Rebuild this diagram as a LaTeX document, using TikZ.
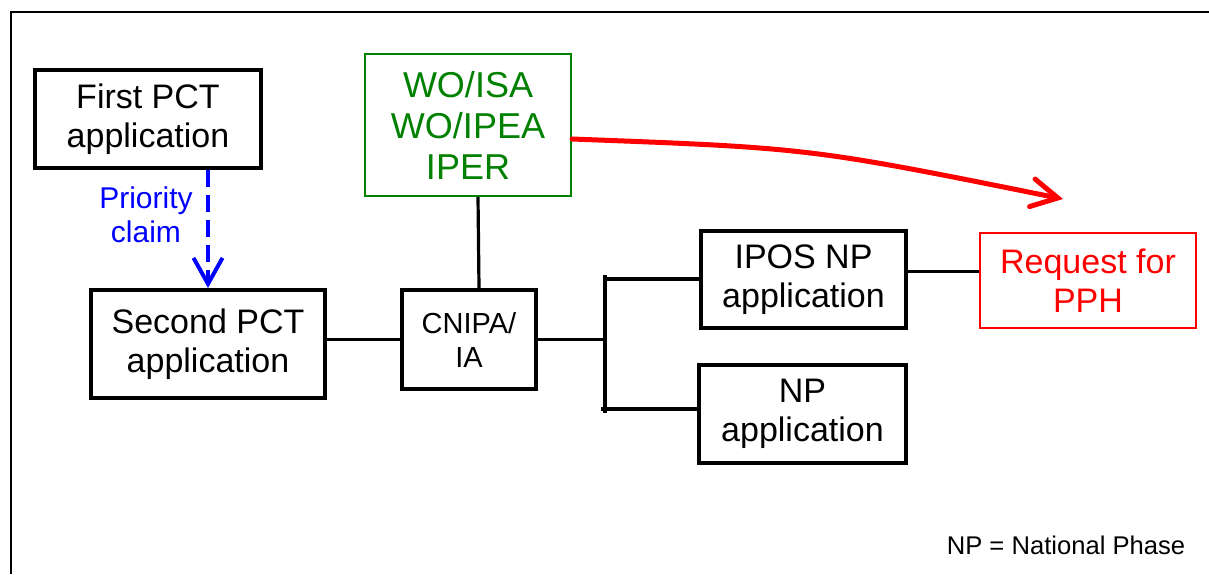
\documentclass[tikz,border=0pt]{standalone}
\usepackage{fontspec}
\setmainfont{Liberation Sans}
\usetikzlibrary{arrows.meta}

\begin{document}
\begin{tikzpicture}[x=0.5pt,y=-0.5pt,
            every node/.style={align=center,inner sep=0pt},
            link/.style={line width=1.6pt}]
            \tikzstyle{appbox}=[draw,line width=2pt,font=\fontsize{17}{19.5}\selectfont]
            \tikzstyle{wobox}=[draw=green!50!black,text=green!50!black,line width=1pt,font=\fontsize{18}{20.5}\selectfont]
            \tikzstyle{pphbox}=[draw=red,text=red,line width=0.75pt,font=\fontsize{17}{19.5}\selectfont]
            \useasboundingbox (0,0) rectangle (1209,574);
            \draw[line width=1pt] (11,574) -- (11,12) -- (1209,12);
            \node[appbox,minimum width=113pt,minimum height=49pt] (first) at (148,119) {First PCT\\application};
            \node[appbox,minimum width=117pt,minimum height=54pt] (second) at (208,344) {Second PCT\\application};
            \node[wobox,minimum width=103pt,minimum height=71pt] (wo) at (468,125) {WO/ISA\\WO/IPEA\\IPER};
            \node[appbox,font=\fontsize{14.5}{17}\selectfont,minimum width=67pt,minimum height=49.5pt] (cnipa) at (469,339.5) {CNIPA/\\IA};
            \node[appbox,minimum width=102.5pt,minimum height=48.5pt] (ipos) at (803.5,279.5) {IPOS NP\\application};
            \node[appbox,minimum width=103.5pt,minimum height=49pt] (np) at (802.5,414) {NP\\application};
            \node[pphbox,minimum width=108pt,minimum height=47.5pt] (pph) at (1088,280.5) {Request for\\PPH};
            \node[text=blue,font=\fontsize{15}{17}\selectfont] (prio) at (146,215) {Priority\\claim};
            \node[font=\fontsize{12.8}{15}\selectfont] (note) at (1066,545) {NP = National Phase};
            \coordinate (bustop) at (605,279);
            \coordinate (busbot) at (605,409);
            \coordinate (pphtip) at (1063,199);
            \draw[blue,line width=2pt,dash pattern=on 8.5pt off 4pt,-{Straight Barb[length=13pt,width=14.5pt]}]
                (second.north |- first.south) -- (second.north);
            \draw[link] (cnipa.west -| second.east) -- (cnipa.west);
            \draw[link] ([xshift=5pt]wo.south) -- ([xshift=5pt]cnipa.north);
            \draw[link] (cnipa.east) -- (cnipa.east -| bustop);
            \draw[link] ([yshift=2pt]bustop) -- ([yshift=-2pt]busbot);
            \draw[link] (bustop) -- (ipos.west |- bustop);
            \draw[link] ([xshift=-2pt]busbot) -- (np.west |- busbot);
            \draw[link] ([yshift=4pt]ipos.east) -- ([yshift=4pt]ipos.east -| pph.west);
            \draw[red,line width=2.5pt,line cap=round,-{Straight Barb[length=13pt,width=14pt,line cap=round]}]
                ([yshift=-7pt]wo.east) .. controls (810,148) .. (pphtip);
        \end{tikzpicture}
\end{document}
